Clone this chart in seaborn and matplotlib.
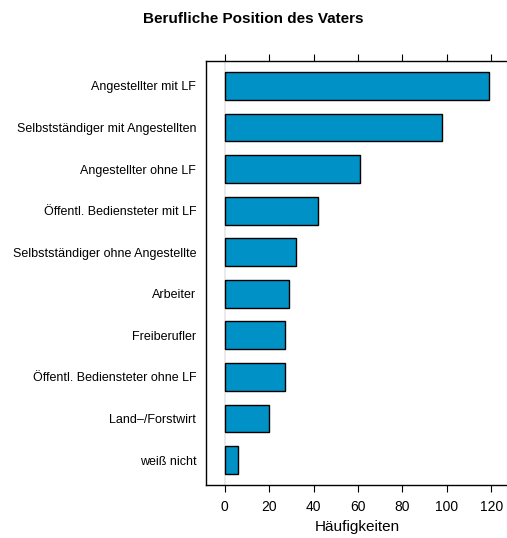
import matplotlib
matplotlib.use("Agg")
import matplotlib.pyplot as plt
import seaborn as sns
import pandas as pd

categories = [
    "Angestellter mit LF",
    "Selbstständiger mit Angestellten",
    "Angestellter ohne LF",
    "Öffentl. Bediensteter mit LF",
    "Selbstständiger ohne Angestellte",
    "Arbeiter",
    "Freiberufler",
    "Öffentl. Bediensteter ohne LF",
    "Land–/Forstwirt",
    "weiß nicht",
]
counts = [119, 98, 61, 42, 32, 29, 27, 27, 20, 6]
x_ticks = [0, 20, 40, 60, 80, 100, 120]

df = pd.DataFrame({"Position": categories, "Anzahl": counts})

sns.set_theme(style="white")
plt.rcParams["font.family"] = ["Liberation Sans", "DejaVu Sans"]

W, H = 507, 538
fig = plt.figure(figsize=(W / 100, H / 100), dpi=100)
ax = fig.add_axes([206 / W, 1 - 485 / H, 302 / W, (485 - 61) / H])

ax.axvline(0, color="#e6e6e6", lw=1.2, zorder=0)
sns.barplot(data=df, x="Anzahl", y="Position", order=categories,
            color="#0091C6", saturation=1, width=2 / 3,
            edgecolor="black", linewidth=1.0, ax=ax, zorder=2)

ax.set_xlim(-8.4, 127.5)
ax.set_ylim(len(categories) - 1 + 0.6, -0.6)
ax.set_xticks(x_ticks)
ax.set_xticklabels([str(t) for t in x_ticks])
ax.tick_params(axis="x", which="both", top=True, bottom=True,
               direction="out", length=5, width=0.8, color="black",
               labelsize=10, labelcolor="black", pad=6)
ax.tick_params(axis="y", length=0, labelsize=9, labelcolor="black", pad=7)
for s in ax.spines.values():
    s.set_visible(True)
    s.set_color("black")
    s.set_linewidth(1.0)

ax.set_ylabel("")
ax.set_xlabel("")
fig.text(357 / W, 1 - 527 / H, "Häufigkeiten", ha="center", va="center",
         fontsize=11, color="black")
fig.text(0.5, 1 - 19 / H, "Berufliche Position des Vaters", ha="center",
         va="center", fontsize=11, fontweight="bold", color="black")

fig.savefig("out.png", dpi=100)
